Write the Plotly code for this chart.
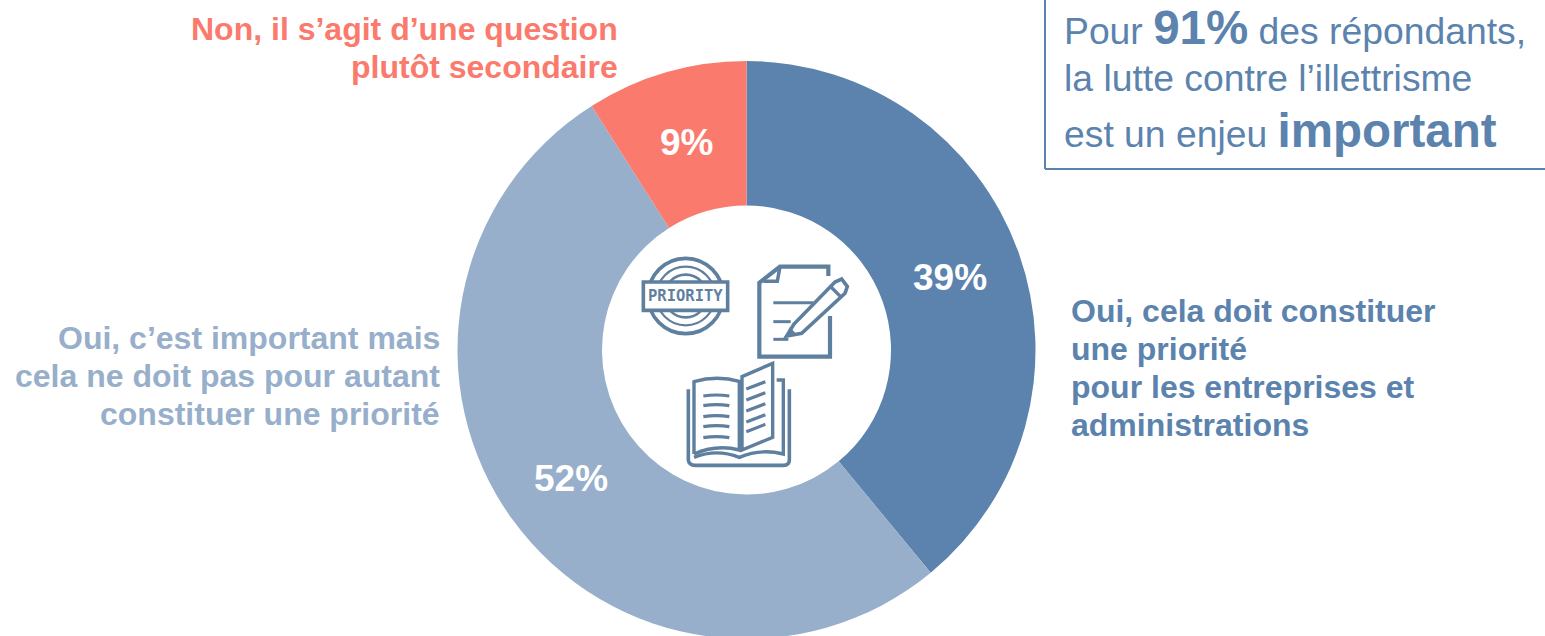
import math
import plotly.graph_objects as go

W, H = 1545, 640

categories = ["Oui, cela doit constituer une priorité pour les entreprises et administrations",
              "Oui, c’est important mais cela ne doit pas pour autant constituer une priorité",
              "Non, il s’agit d’une question plutôt secondaire"]
values = [39, 52, 9]
colors = ["#5B83AE", "#97AFCB", "#FB7A6E"]
label_lines_red = ["Non, il s’agit d’une question", "plutôt secondaire"]
label_lines_light = ["Oui, c’est important mais", "cela ne doit pas pour autant", "constituer une priorité"]
label_lines_dark = ["Oui, cela doit constituer", "une priorité", "pour les entreprises et", "administrations"]
ICON = "#5F7F9F"
FONT = "Liberation Sans"

def px(x): return x / W
def py(y): return 1 - y / H

# icon geometry, in the coordinates of a 3x crop whose origin is (620,240)
def zx(x): return 620 + x / 3
def zy(y): return 240 + y / 3

def path(cmds):
    out = []
    for c in cmds:
        if c[0] == "Z":
            out.append("Z")
            continue
        nums = c[1:]
        step = 4 if c[0] == "Q" else 2
        for k in range(0, len(nums), step):
            group = nums[k:k + step]
            pts = " ".join(f"{px(zx(group[i])):.5f},{py(zy(group[i + 1])):.5f}" for i in range(0, len(group), 2))
            out.append(f"{c[0]}{pts}")
    return " ".join(out)

def line_shape(cmds, w=3.0, fill=None):
    s = dict(type="path", xref="paper", yref="paper", path=path(cmds),
             line=dict(color=ICON, width=w))
    if fill:
        s["fillcolor"] = fill
    return s

def circle(cx, cy, r, w):
    return dict(type="circle", xref="paper", yref="paper",
                x0=px(zx(cx - r)), x1=px(zx(cx + r)), y0=py(zy(cy - r)), y1=py(zy(cy + r)),
                line=dict(color=ICON, width=w))

shapes = [
    # callout frame
    dict(type="line", xref="paper", yref="paper", x0=px(1045), x1=px(1045), y0=py(0), y1=py(169),
         line=dict(color=colors[0], width=2)),
    dict(type="line", xref="paper", yref="paper", x0=px(1045), x1=px(1545), y0=py(169), y1=py(169),
         line=dict(color=colors[0], width=2)),
    # stamp
    circle(197, 168, 113, 3.6), circle(197, 168, 88, 2.2), circle(197, 168, 64, 2.6),
    line_shape([("M", 70, 126), ("L", 323, 126, 323, 211, 70, 211), ("Z",)], 3.6, "#FFFFFF"),
    # document
    line_shape([("M", 625, 108), ("L", 625, 80, 480, 80, 418, 128, 418, 350, 630, 350, 630, 228)], 4.2),
    line_shape([("M", 480, 80), ("L", 472, 124, 430, 124)], 3.5),
    line_shape([("M", 460, 188), ("L", 580, 188)], 3),
    line_shape([("M", 460, 245), ("L", 512, 245)], 3),
    line_shape([("M", 460, 298), ("L", 505, 298)], 3),
    # pencil
    line_shape([("M", 500, 288), ("L", 522, 252, 645, 126, 665, 117, 682, 140, 675, 160, 545, 280), ("Z",)], 3.6, "#FFFFFF"),
    line_shape([("M", 630, 138), ("L", 664, 172)], 3.4),
    line_shape([("M", 500, 288), ("L", 510, 265, 526, 282), ("Z",)], 1.5, ICON),
    # book
    line_shape([("M", 222, 642), ("L", 222, 425), ("Q", 290, 405, 358, 424), ("L", 358, 630), ("Q", 290, 612, 222, 642)], 3.4),
    line_shape([("M", 366, 410), ("L", 458, 370, 458, 592, 366, 630), ("Z",)], 3.4),
    line_shape([("M", 470, 420), ("L", 490, 420, 490, 642), ("Q", 420, 625, 358, 652), ("Q", 290, 625, 222, 652)], 3.4),
    line_shape([("M", 205, 448), ("L", 205, 660), ("Q", 207, 676, 225, 676), ("L", 490, 676), ("Q", 508, 676, 508, 660), ("L", 508, 448)], 3.6),
]
for y in (468, 497, 530, 560, 593):
    shapes.append(line_shape([("M", 250, y), ("Q", 290, y - 6, 328, y)], 3.2))
for y in (447, 480, 513, 546, 575):
    shapes.append(line_shape([("M", 379, y), ("L", 436, y - 22)], 3.2))

def ann(text, x, y, size, color, xanchor="left"):
    return dict(text=text, x=px(x), y=py(y), xref="paper", yref="paper", xanchor=xanchor, yanchor="middle",
                align=xanchor, showarrow=False, font=dict(family=FONT, size=size, color=color))

def block(lines, x, ys, color, xanchor):
    return [ann(f"<b>{t}</b>", x, y, 32, color, xanchor) for t, y in zip(lines, ys)]

CX, CY, R = 746.5, 350, 289

# slice labels sit at the middle of the ring, at each slice's mid-angle
pct_labels = []
cum = 0
total = sum(values)
for v in values:
    a = 2 * math.pi * (cum + v / 2) / total
    cum += v
    rr = 0.75 * R
    pct_labels.append(dict(text=f"<b>{v}%</b>", x=px(CX + rr * math.sin(a)), y=py(CY - rr * math.cos(a) + 1),
                           xref="paper", yref="paper", showarrow=False, xanchor="center", yanchor="middle",
                           font=dict(family=FONT, size=37, color="#FFFFFF")))

BIG = '<span style="font-size:47.5px"><b>{}</b></span>'
annotations = (
    block(label_lines_red, 620, (29, 67), colors[2], "right")
    + block(label_lines_light, 442, (338, 376, 414), colors[1], "right")
    + block(label_lines_dark, 1069, (311, 349, 387, 425), colors[0], "left")
    + pct_labels
    + [
        ann("Pour " + BIG.format("91%") + " des répondants,", 1062, 28, 37.3, colors[0]),
        ann("la lutte contre l’illettrisme", 1062, 78, 37.3, colors[0]),
        ann("est un enjeu " + BIG.format("important"), 1062, 130, 37.3, colors[0]),
        dict(text="<b>PRIORITY</b>", x=px(zx(197)), y=py(zy(169)), xref="paper", yref="paper", showarrow=False,
             xanchor="center", yanchor="middle", font=dict(family="DejaVu Sans Mono", size=15.5, color=ICON)),
    ]
)

fig = go.Figure(go.Pie(
    labels=categories, values=values, sort=False, direction="clockwise", rotation=0, hole=0.5,
    marker=dict(colors=colors, line=dict(width=0)),
    textinfo="none",
    domain=dict(x=[px(CX - R), px(CX + R)], y=[py(CY + R), py(CY - R)]),
    showlegend=False, hoverinfo="label+percent",
))
fig.update_layout(width=W, height=H, margin=dict(l=0, r=0, t=0, b=0, pad=0),
                  paper_bgcolor="#FFFFFF", plot_bgcolor="#FFFFFF",
                  shapes=shapes, annotations=annotations, font=dict(family=FONT))
fig.write_html("out.html", config=dict(displayModeBar=False),
               post_script="document.body.style.margin='0';document.body.style.overflow='hidden';document.documentElement.style.overflow='hidden';")
